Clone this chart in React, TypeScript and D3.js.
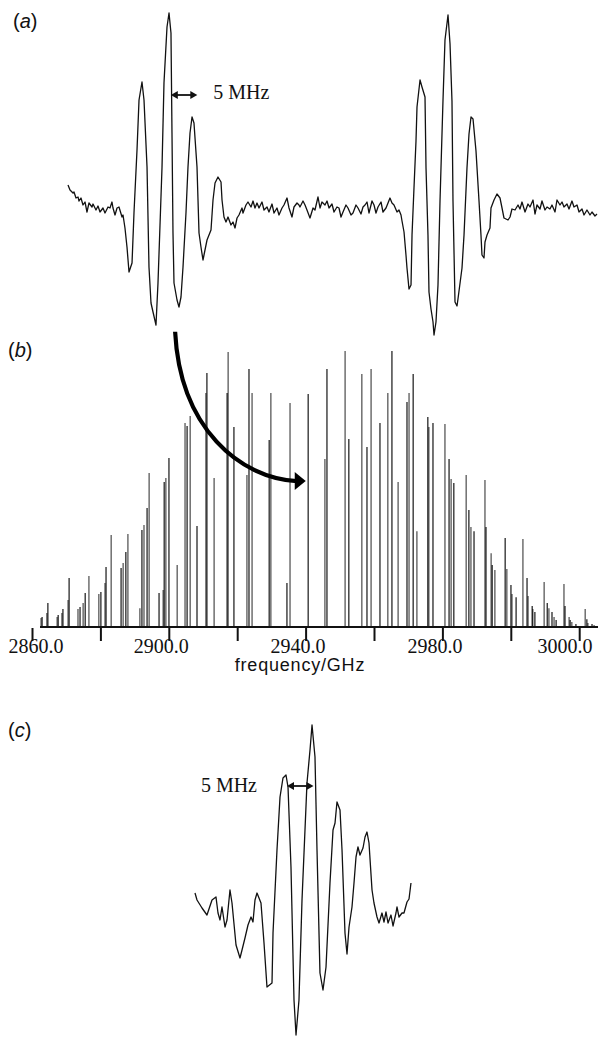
import React from 'react';
import * as d3 from 'd3';

const W = 598;
const H = 1037;

// (a) scan over two line groups: offset in MHz, signal in arbitrary units
const scanAFreq = [
  0, 0.38, 0.94, 1.13, 1.51, 1.89, 2.08, 2.45, 2.83, 3.21, 3.58, 3.96, 4.53, 4.72, 5.28, 5.66, 6.04, 6.6, 6.98, 7.55,
  7.92, 8.3, 8.49, 8.87, 9.25, 9.62, 10.19, 10.38, 10.75, 11.13, 11.51, 12.08, 12.45, 13.02, 13.4, 13.96, 14.34, 14.91, 15.28, 15.66,
  16.04, 16.6, 16.98, 17.74, 18.11, 18.68, 19.06, 19.43, 19.62, 19.81, 20.0, 20.57, 20.94, 21.32, 21.7, 22.26, 22.64, 23.02, 23.4, 23.77,
  24.34, 24.72, 25.09, 25.47, 25.66, 26.23, 26.98, 27.36, 27.74, 28.3, 28.87, 29.06, 29.43, 29.81, 30.19, 30.75, 31.13, 31.51, 31.89, 32.26,
  32.83, 33.02, 33.58, 33.96, 34.53, 34.91, 35.28, 35.66, 36.04, 36.6, 36.98, 37.55, 37.92, 38.49, 38.87, 39.43, 39.81, 40.38, 40.75, 41.32,
  41.7, 42.26, 42.64, 43.21, 43.58, 43.77, 44.34, 44.72, 45.09, 45.66, 46.23, 46.6, 47.17, 47.55, 47.92, 48.49, 48.87, 49.25, 49.81, 50.19,
  50.75, 51.13, 51.51, 51.89, 52.45, 52.83, 53.4, 53.77, 54.34, 54.72, 55.28, 55.66, 56.04, 56.42, 56.79, 57.36, 57.74, 58.11, 58.49, 59.06,
  59.43, 60.0, 60.38, 60.75, 61.13, 61.51, 62.08, 62.45, 62.83, 63.02, 63.4, 63.77, 63.96, 64.34, 64.72, 64.91, 65.28, 65.66, 65.85, 66.42,
  66.79, 67.36, 67.55, 67.92, 68.11, 68.49, 68.87, 69.06, 69.43, 69.81, 70.19, 70.75, 71.13, 71.7, 72.08, 72.45, 72.64, 73.02, 73.4, 73.58,
  74.34, 74.72, 75.28, 75.66, 76.04, 76.42, 76.98, 77.55, 77.92, 78.11, 78.49, 78.68, 79.06, 79.62, 79.81, 80.38, 80.94, 81.51, 81.89, 82.26,
  83.02, 83.4, 83.77, 84.34, 84.91, 85.28, 85.66, 86.23, 86.79, 87.17, 87.74, 88.11, 88.49, 89.06, 89.43, 90.0, 90.38, 90.94, 91.32, 91.89,
  92.26, 92.83, 93.21, 93.58, 94.15, 94.53, 95.09, 95.47, 96.04, 96.42, 96.98, 97.36, 97.92, 98.49, 98.87, 99.43, 99.81,
];
const scanASignal = [
  0.23, 0.18, 0.15, 0.16, 0.1, 0.11, 0.07, 0.1, 0.03, 0.06, -0.04, 0.05, 0.01, 0.04, -0.02, 0.02, -0.04, 0, -0.05, 0.01,
  0, 0.06, 0, -0.07, 0, 0.01, -0.09, -0.07, -0.2, -0.39, -0.64, -0.55, -0.05, 0.58, 1.08, 1.26, 1.08, 0.41, -0.59, -0.95,
  -1.04, -1.17, -0.75, 0.41, 1.25, 1.81, 1.95, 1.75, 0.75, -0.25, -0.75, -0.92, -0.99, -0.89, -0.59, -0.05, 0.41, 0.75, 0.91, 0.85,
  0.41, -0.25, -0.39, -0.52, -0.47, -0.32, -0.22, 0.08, 0.25, 0.31, 0.26, 0.08, -0.09, -0.14, -0.09, -0.17, -0.14, -0.2, -0.1, -0.07,
  0, -0.05, 0.03, 0.06, 0.01, 0.07, 0, 0.05, 0, 0.06, -0.02, 0.01, -0.04, 0.04, -0.05, 0, -0.07, 0, 0.03, 0.1,
  0, -0.09, 0.01, 0.05, 0.03, 0.01, 0.07, 0.03, -0.02, -0.1, 0, -0.02, 0.11, 0, 0.06, 0.03, 0.07, 0, 0.04, -0.04,
  0.01, 0, -0.09, -0.04, 0.03, 0, -0.07, -0.05, 0.03, 0, -0.06, 0.01, 0.03, 0.06, -0.05, 0.07, 0.03, -0.05, 0.01, 0.06,
  -0.04, 0, 0.05, 0.1, 0.05, 0.03, -0.04, -0.02, -0.07, -0.13, -0.24, -0.47, -0.6, -0.81, -0.77, -0.27, 0.2, 0.67, 1.01, 1.28,
  1.21, 1.11, 0.4, -0.27, -0.84, -1.01, -1.14, -1.27, -1.14, -0.77, 0.07, 1.07, 1.68, 1.93, 1.64, 1.07, 0.07, -0.94, -0.98, -0.91,
  -0.6, -0.27, 0.4, 0.74, 0.91, 0.89, 0.57, 0.07, -0.27, -0.47, -0.5, -0.34, -0.27, -0.2, 0, 0.08, 0.14, 0.1, 0, -0.1,
  -0.12, -0.09, -0.01, -0.02, 0.03, -0.01, 0.06, -0.04, 0.04, 0.01, 0.08, -0.06, 0.03, -0.01, 0.07, -0.02, 0.01, -0.01, 0.03, -0.04,
  0.08, 0.03, 0.06, 0.01, 0.04, -0.01, 0.07, 0.01, 0.03, -0.04, -0.01, -0.07, -0.02, -0.07, -0.04, -0.08, -0.06,
];

// (b) stick spectrum: line position (GHz) and relative intensity (%)
const darkLinesGHz = [
  2862.8, 2864.5, 2867.5, 2868.9, 2870.7, 2873.9, 2875.4, 2880.0, 2881.5, 2885.9, 2887.3, 2892.0, 2893.5, 2897.0, 2898.5, 2899.9,
  2905.2, 2908.1, 2911.0, 2916.9, 2918.9, 2923.3, 2929.2, 2934.4, 2940.6, 2946.1, 2952.5, 2957.8, 2961.6, 2965.1, 2969.5, 2971.3,
  2975.6, 2977.1, 2981.8, 2983.2, 2987.6, 2989.1, 2992.6, 2994.4, 2998.2, 2999.9, 3001.4, 3004.6, 3006.1, 3006.9, 3010.5, 3011.9,
  3013.1, 3015.7, 3017.2, 3018.9, 3022.1, 3023.6,
];
const darkLinesInt = [
  3.3, 8.4, 4.0, 6.2, 17.5, 6.9, 12.0, 12.4, 21.5, 21.1, 26.9, 34.9, 42.9, 12.0, 52.4, 61.1,
  72.7, 36.4, 92.0, 84.7, 72.4, 93.5, 67.6, 15.6, 84.4, 93.5, 68.0, 65.1, 73.8, 100, 81.5, 91.6,
  76.0, 73.8, 60.7, 52.0, 42.2, 34.5, 36.0, 22.2, 32.0, 14.9, 10.5, 17.5, 7.3, 5.1, 8.4, 5.1,
  2.2, 7.3, 2.2, 0.7, 2.5, 0.7,
];
const lightLinesGHz = [
  2862.5, 2864.2, 2867.2, 2868.6, 2870.4, 2873.3, 2874.8, 2876.5, 2879.4, 2881.2, 2883.0, 2886.5, 2887.9, 2891.4, 2892.6, 2894.1,
  2898.2, 2899.0, 2902.3, 2904.6, 2906.1, 2910.7, 2913.1, 2917.2, 2922.7, 2924.2, 2929.7, 2935.3, 2945.5, 2951.4, 2956.3, 2959.0,
  2963.9, 2966.9, 2970.1, 2972.4, 2975.9, 2980.6, 2982.4, 2986.8, 2988.2, 2992.3, 2994.1, 2995.2, 2998.7, 3000.2, 3003.4, 3004.9,
  3006.3, 3009.6, 3011.0, 3012.5, 3015.4, 3016.9, 3017.7, 3021.6, 3022.4, 3024.2,
];
const lightLinesInt = [
  2.9, 4.7, 3.3, 4.7, 9.5, 6.2, 8.4, 18.2, 11.6, 15.6, 33.1, 22.9, 33.5, 6.5, 36.7, 55.6,
  13.1, 53.8, 22.2, 73.8, 76.4, 84.7, 53.8, 99.6, 54.9, 84.7, 84.7, 81.1, 60.7, 100, 91.6, 93.5,
  84.7, 52.4, 84.7, 34.5, 72.4, 73.5, 53.5, 54.9, 36.0, 53.1, 26.5, 20.4, 20.7, 11.6, 31.6, 10.9,
  6.2, 16.0, 6.5, 3.3, 15.3, 3.3, 1.5, 6.2, 1.1, 0.4,
];

const tickValues = [2860, 2880, 2900, 2920, 2940, 2960, 2980, 3000, 3020];
const tickLabels = ['2860.0', '', '2900.0', '', '2940.0', '', '2980.0', '', '3000.0'];

// (c) single line group: offset in MHz, signal in arbitrary units
const scanCFreq = [
  0, 0.38, 1.32, 2.26, 3.21, 3.96, 4.34, 4.72, 5.09, 5.66, 6.04, 6.6, 6.98, 7.74, 8.49, 8.87, 9.43, 10.0, 10.57, 10.94,
  11.32, 11.7, 12.45, 13.02, 13.58, 14.53, 14.72, 15.47, 16.04, 16.6, 17.17, 17.55, 18.11, 18.68, 19.06, 19.62, 20.19, 21.13, 21.7, 22.08,
  22.64, 23.02, 23.58, 24.15, 24.72, 25.47, 26.04, 26.42, 26.79, 27.36, 27.74, 28.3, 28.68, 29.06, 29.62, 30.0, 30.38, 30.75, 31.13, 31.7,
  32.08, 32.45, 32.83, 33.4, 33.77, 34.34, 34.72, 35.28, 35.66, 36.04, 36.42, 36.98, 37.36, 37.92, 38.11, 38.49, 39.06, 39.43, 40.0, 40.38,
  40.75,
];
const scanCSignal = [
  0.17, 0.1, 0.02, -0.05, 0.1, 0.13, -0.03, -0.1, 0.03, -0.17, -0.1, 0.2, 0.07, -0.35, -0.48, -0.4, -0.28, -0.15, -0.07, -0.12,
  0.1, 0.17, 0.07, -0.33, -0.77, -0.73, -0.23, 0.6, 1.13, 1.32, 1.35, 1.23, 0.43, -0.9, -1.25, -0.9, 0.1, 1.27, 1.6, 1.85,
  1.53, 0.6, -0.63, -0.8, -0.57, 0.27, 0.8, 0.87, 1.08, 1.0, 0.6, -0.23, -0.44, -0.17, 0.03, 0.27, 0.53, 0.63, 0.55, 0.62,
  0.73, 0.78, 0.67, 0.2, 0.07, -0.07, -0.13, -0.03, -0.12, -0.02, -0.13, -0.05, -0.16, -0.03, 0.03, -0.07, -0.03, -0.03, 0.08, 0.11,
  0.27,
];

const SERIF = '"Liberation Serif", "Times New Roman", serif';
const SANS = '"Liberation Sans", Arial, sans-serif';

function DoubleArrow({ x1, x2, y }: { x1: number; x2: number; y: number }) {
  const h = 6;
  return (
    <g>
      <line x1={x1 + h} x2={x2 - h} y1={y} y2={y} stroke="#111" strokeWidth={1.8} />
      <path d={`M${x1},${y}L${x1 + h + 1},${y - 4}L${x1 + h + 1},${y + 4}Z`} fill="#111" />
      <path d={`M${x2},${y}L${x2 - h - 1},${y - 4}L${x2 - h - 1},${y + 4}Z`} fill="#111" />
    </g>
  );
}

function PanelLabel({ x, y, letter }: { x: number; y: number; letter: string }) {
  return (
    <text x={x} y={y} fontFamily={SANS} fontSize={20} fill="#111">
      (<tspan fontStyle="italic">{letter}</tspan>)
    </text>
  );
}

export default function App() {
  // panel (a)
  const xA = d3.scaleLinear().domain([0, 100]).range([68, 598]);
  const yA = d3.scaleLinear().domain([-1.3, 2.0]).range([338, 8]);
  const lineA = d3.line<number>().x((d, i) => xA(scanAFreq[i])).y((d) => yA(d));

  // panel (b)
  const xB = d3.scaleLinear().domain([2860, 3020]).range([32.5, 579.7]);
  const yB = d3.scaleLinear().domain([0, 100]).range([626, 351]);
  const labelX = (t: number) => Math.max(36, Math.min(W - 33, xB(t) - 8));

  // panel (c)
  const xC = d3.scaleLinear().domain([0, 100]).range([195, 725]);
  const yC = d3.scaleLinear().domain([-1.3, 2.0]).range([1040, 710]);
  const lineC = d3.line<number>().x((d, i) => xC(scanCFreq[i])).y((d) => yC(d));

  // curved arrow from (a) into (b)
  const ax0 = xB(2901.7);
  const ay0 = yB(107);
  const ax1 = xB(2939.6);
  const ay1 = yB(52.7);
  const curve = `M${ax0},${ay0}C${ax0 + 5},${ay0 + 97} ${ax0 + 65},${ay1 - 3} ${ax1 - 8},${ay1}`;

  return (
    <div style={{ position: 'absolute', left: 0, top: 0 }}>
      <svg width={W} height={H} style={{ display: 'block', background: '#fff' }}>
        <PanelLabel x={13} y={28} letter="a" />
        <path d={lineA(scanASignal) ?? ''} fill="none" stroke="#111" strokeWidth={1.3} strokeLinejoin="round" />
        <DoubleArrow x1={xA(19.4)} x2={xA(24.4)} y={yA(1.13)} />
        <text x={xA(27.4)} y={yA(1.09)} fontFamily={SERIF} fontSize={20} fill="#111">5 MHz</text>

        <PanelLabel x={8} y={357} letter="b" />
        <g>
          {lightLinesGHz.map((f, i) => (
            <line key={`l${i}`} x1={xB(f)} x2={xB(f)} y1={yB(0)} y2={yB(lightLinesInt[i])} stroke="#4a4a4a" strokeWidth={1.2} />
          ))}
          {darkLinesGHz.map((f, i) => (
            <line key={`d${i}`} x1={xB(f)} x2={xB(f)} y1={yB(0)} y2={yB(darkLinesInt[i])} stroke="#000" strokeWidth={1.1} />
          ))}
        </g>
        <line x1={xB(2862.2)} x2={W} y1={yB(0) + 1} y2={yB(0) + 1} stroke="#111" strokeWidth={2.2} />
        {tickValues.map((t, i) => (
          <g key={t}>
            <line x1={xB(t)} x2={xB(t)} y1={yB(0) + 2} y2={yB(0) + 15} stroke="#111" strokeWidth={2} />
            {tickLabels[i] && (
              <text x={labelX(t)} y={653} textAnchor="middle" fontFamily={SERIF} fontSize={20} fill="#111">
                {tickLabels[i]}
              </text>
            )}
          </g>
        ))}
        <text x={300} y={671} textAnchor="middle" fontFamily={SANS} fontSize={18} letterSpacing={0.8} fill="#111">
          frequency/GHz
        </text>
        <path d={curve} fill="none" stroke="#000" strokeWidth={4.2} />
        <path d={`M${ax1 - 10},${ay1 - 9}L${ax1 + 1},${ay1}L${ax1 - 10},${ay1 + 9}Z`} fill="#000" />

        <PanelLabel x={8} y={737} letter="c" />
        <path d={lineC(scanCSignal) ?? ''} fill="none" stroke="#111" strokeWidth={1.3} strokeLinejoin="round" />
        <DoubleArrow x1={xC(17.36)} x2={xC(22.36)} y={yC(1.24)} />
        <text x={xC(11.7)} y={yC(1.18)} textAnchor="end" fontFamily={SERIF} fontSize={20} fill="#111">5 MHz</text>
      </svg>
    </div>
  );
}
